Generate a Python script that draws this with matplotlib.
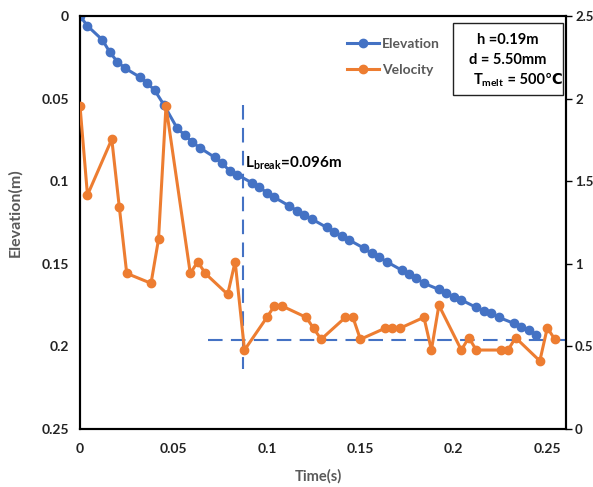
import matplotlib
matplotlib.use("Agg")
import matplotlib.pyplot as plt
from matplotlib.patches import Rectangle

plt.rcParams['font.family'] = ['Lato', 'DejaVu Sans']
plt.rcParams['font.weight'] = 'bold'
plt.rcParams['mathtext.fontset'] = 'custom'
plt.rcParams['mathtext.rm'] = 'Lato:bold'
plt.rcParams['mathtext.bf'] = 'Lato:bold'
plt.rcParams['mathtext.it'] = 'Lato:bold'

# Elevation data
elev_t = [0, 0.004, 0.012, 0.016, 0.020, 0.024, 0.032, 0.036, 0.040, 0.045,
          0.052, 0.056, 0.060, 0.064, 0.072, 0.076, 0.080, 0.084, 0.092, 0.096,
          0.100, 0.104, 0.112, 0.116, 0.120, 0.124, 0.132, 0.136, 0.140, 0.144,
          0.152, 0.156, 0.160, 0.164, 0.172, 0.176, 0.180, 0.184, 0.192, 0.196,
          0.200, 0.204, 0.212, 0.216, 0.220, 0.224, 0.232, 0.236, 0.240, 0.244]
elev = [0, 0.006, 0.0145, 0.022, 0.0277, 0.0315, 0.037, 0.0407, 0.045, 0.054,
        0.068, 0.072, 0.0763, 0.0797, 0.0855, 0.0892, 0.0936, 0.096, 0.101, 0.1037,
        0.107, 0.1098, 0.115, 0.1178, 0.1205, 0.1229, 0.128, 0.1306, 0.1332, 0.1356,
        0.1406, 0.1437, 0.146, 0.1487, 0.1538, 0.156, 0.1588, 0.1618, 0.1655, 0.1675,
        0.170, 0.1719, 0.1764, 0.1784, 0.180, 0.1824, 0.186, 0.188, 0.190, 0.193]

# Velocity data
vel_t = [0, 0.004, 0.017, 0.021, 0.025, 0.038, 0.042, 0.046, 0.059, 0.063,
         0.067, 0.079, 0.083, 0.088, 0.100, 0.104, 0.108, 0.121, 0.125, 0.129,
         0.142, 0.146, 0.150, 0.163, 0.167, 0.171, 0.184, 0.188, 0.192, 0.204,
         0.208, 0.212, 0.225, 0.229, 0.233, 0.246, 0.250, 0.254]
vel = [1.955, 1.416, 1.754, 1.346, 0.942, 0.882, 1.148, 1.955, 0.942, 1.013,
       0.942, 0.815, 1.013, 0.478, 0.676, 0.745, 0.745, 0.676, 0.609, 0.543,
       0.676, 0.676, 0.543, 0.609, 0.609, 0.609, 0.676, 0.478, 0.749, 0.478,
       0.553, 0.478, 0.478, 0.478, 0.553, 0.412, 0.613, 0.543]

x_ticks = [0, 0.05, 0.1, 0.15, 0.2, 0.25]
x_labels = ['0', '0.05', '0.1', '0.15', '0.2', '0.25']
y_ticks = [0, 0.05, 0.1, 0.15, 0.2, 0.25]
y_labels = ['0', '0.05', '0.1', '0.15', '0.2', '0.25']
v_ticks = [0, 0.5, 1, 1.5, 2, 2.5]
v_labels = ['0', '0.5', '1', '1.5', '2', '2.5']

break_t = 0.0872
break_elev_range = [0.054, 0.2137]
break_level = 0.196
hline_t = [0.0685, 0.26]

BLUE = '#4472C4'
ORANGE = '#ED7D31'
GRAY = '#595959'

fig = plt.figure(figsize=(5.93, 4.87), dpi=100)
ax = fig.add_axes([80/593, 1-429/487, (566-80)/593, (429-16)/487])
ax2 = ax.twinx()

l1, = ax.plot(elev_t, elev, color=BLUE, lw=2.2, marker='o', ms=6, label='Elevation', zorder=3)
l2, = ax2.plot(vel_t, vel, color=ORANGE, lw=2.2, marker='o', ms=6, label='Velocity', zorder=3)

ax.plot([break_t, break_t], break_elev_range, color=BLUE, lw=1.5, ls=(0, (7, 4)), clip_on=False, zorder=2)
ax.plot(hline_t, [break_level, break_level], color=BLUE, lw=1.5, ls=(0, (7, 4)), clip_on=False, zorder=2)

ax.set_xlim(0, 0.26)
ax.set_ylim(0.25, 0)
ax2.set_ylim(0, 2.5)

ax.set_xticks(x_ticks)
ax.set_xticklabels(x_labels)
ax.set_yticks(y_ticks)
ax.set_yticklabels(y_labels)
ax2.set_yticks(v_ticks)
ax2.set_yticklabels(v_labels)

ax.tick_params(axis='x', length=0, pad=10, labelsize=10, labelcolor='#222222')
ax.tick_params(axis='y', length=0, pad=8, labelsize=10, labelcolor='#222222')
ax2.tick_params(axis='y', length=4, width=1, pad=2.5, labelsize=9.5, labelcolor='#222222')

for a in (ax, ax2):
    for s in a.spines.values():
        s.set_linewidth(1.5)
        s.set_color('black')

fig.text(15/593, 1-213/487, 'Elevation(m)', rotation=90, ha='center', va='center',
         fontsize=11.5, color=GRAY, fontweight='bold')
fig.text(318/593, 1-476/487, 'Time(s)', ha='center', va='center',
         fontsize=10.5, color=GRAY, fontweight='bold')

fig.text(245/593, 1-163/487, r'$\mathbf{L_{break}}$=0.096m', ha='left', va='center',
         fontsize=11, color='black', fontweight='bold')

leg = ax2.legend(handles=[l1, l2], loc='upper left', bbox_to_anchor=(340/593, 1-31/487),
                 bbox_transform=fig.transFigure, frameon=False, fontsize=10,
                 handlelength=2.3, labelspacing=1.0, handletextpad=0.2, borderpad=0)
for t in leg.get_texts():
    t.set_color(GRAY)
    t.set_fontweight('bold')

fig.patches.append(Rectangle((453/593, 1-95/487), 110/593, 72/487, transform=fig.transFigure,
                             facecolor='white', edgecolor='#222222', lw=1.0, zorder=5))
fig.text(508/593, 1-40/487, 'h =0.19m', ha='center', va='center', fontsize=10.5, fontweight='bold', zorder=6)
fig.text(508/593, 1-60/487, 'd = 5.50mm', ha='center', va='center', fontsize=10.5, fontweight='bold', zorder=6)
fig.text(504/593, 1-80/487, r'$\mathbf{T_{melt}}$', ha='right', va='center', fontsize=10.5,
         fontweight='bold', zorder=6)
fig.text(504/593, 1-80/487, ' = 500℃', ha='left', va='center', fontsize=10.5,
         fontweight='bold', zorder=6, family=['Lato', 'DejaVu Sans'])

fig.savefig('out.png', dpi=100)
